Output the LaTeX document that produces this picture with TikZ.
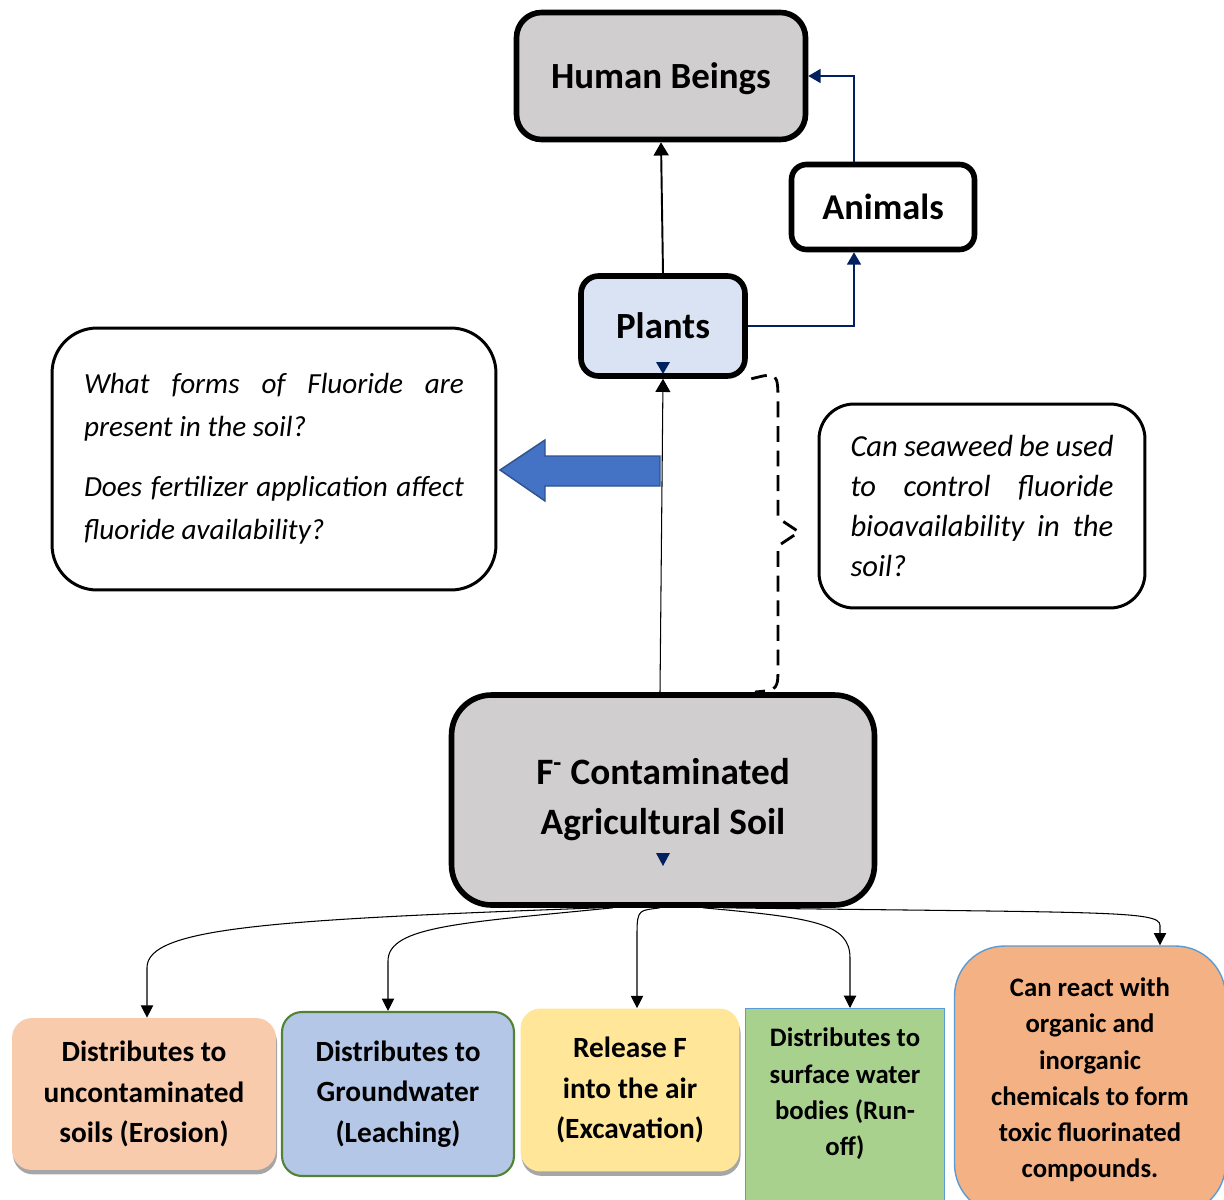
\documentclass[tikz,border=0pt]{standalone}
\usepackage{fontspec}
\setmainfont{Carlito}
\usetikzlibrary{calc,arrows.meta,positioning,shadows}
\definecolor{boxgray}{RGB}{208,206,206}
\definecolor{plantblue}{RGB}{218,227,243}
\definecolor{navy}{RGB}{0,32,96}
\definecolor{arrowblue}{RGB}{68,114,196}
\definecolor{arrowedge}{RGB}{47,82,143}
\definecolor{peach}{RGB}{248,203,173}
\definecolor{waterblue}{RGB}{180,199,231}
\definecolor{greenedge}{RGB}{84,130,53}
\definecolor{sunyellow}{RGB}{255,230,153}
\definecolor{grassgreen}{RGB}{169,209,142}
\definecolor{edgeblue}{RGB}{91,155,213}
\definecolor{coral}{RGB}{244,177,131}

\begin{document}
\begin{tikzpicture}[x=0.02cm, y=-0.02cm,
    bigbox/.style={draw=black, line width=3.2pt, rounded corners=0.5cm, align=center},
    askbox/.style={draw=black, line width=1.7pt, align=justify},
    outbox/.style={align=center, rounded corners=0.4cm, font=\fontsize{16.7}{23.2}\selectfont\bfseries},
    smallout/.style={align=center, font=\fontsize{15.2}{20.6}\selectfont\bfseries},
    shade/.style={drop shadow={shadow xshift=0.6pt, shadow yshift=-2.5pt, opacity=0.35, fill=black}},
    conn/.style={line width=0.6pt, -{Triangle[length=7pt,width=7pt]}},
    link/.style={draw=navy, line width=0.7pt, -{Triangle[length=7pt,width=8pt]}}
  ]
    \useasboundingbox (0,0) rectangle (1224,1200);
    \clip (0,0) rectangle (1224,1200);

    % food chain
    \node[bigbox, fill=boxgray, minimum width=5.78cm, minimum height=2.54cm, text height=19pt, text depth=4.4pt,
      font=\fontsize{21}{25}\selectfont\bfseries] (human) at (661,76) {Human Beings};
    \node[bigbox, fill=white, rounded corners=0.3cm, minimum width=3.66cm, minimum height=1.7cm,
      font=\fontsize{20.7}{24}\selectfont\bfseries] (animals) at (883,207) {Animals};
    \node[bigbox, fill=plantblue, rounded corners=0.35cm, minimum width=3.28cm, minimum height=2cm,
      font=\fontsize{21}{24}\selectfont\bfseries] (plants) at (663,326) {Plants};
    \fill[navy] (656,362) -- (670,362) -- (663,374) -- cycle;

    % questions
    \node[askbox, rounded corners=0.9cm, minimum width=8.88cm, minimum height=5.24cm, text width=7.6cm,
      font=\fontsize{16.6}{24.4}\selectfont\itshape] (formsq) at (274,459)
      {What forms of Fluoride are\linebreak present in the soil?\par\vspace{10pt}
       Does fertilizer application affect\linebreak fluoride availability?};
    \node[askbox, rounded corners=0.7cm, minimum width=6.52cm, minimum height=4.08cm, text width=5.26cm,
      font=\fontsize{17.4}{22.7}\selectfont\itshape] (seaweedq) at (982,506)
      {Can seaweed be used\linebreak to control fluoride\linebreak bioavailability in the\linebreak soil?};
    \filldraw[fill=arrowblue, draw=arrowedge, line width=0.8pt]
      (660,456) -- (545,456) -- (545,440) -- (500,470) -- (545,501) -- (545,486) -- (660,486) -- cycle;

    % soil
    \node[bigbox, fill=boxgray, rounded corners=0.8cm, minimum width=8.46cm, minimum height=4.2cm,
      font=\fontsize{21.2}{28.5}\selectfont\bfseries] (soil) at (663,800)
      {F\textsuperscript{-} Contaminated\\Agricultural Soil};
    \fill[navy] (656,853) -- (670,853) -- (663,866) -- cycle;

    % pathways
    \node[outbox, fill=peach, shade, minimum width=5.28cm, minimum height=3.04cm] (erosion) at (144,1094)
      {Distributes to\\uncontaminated\\soils (Erosion)};
    \node[outbox, fill=waterblue, draw=greenedge, line width=1.2pt, minimum width=4.64cm, minimum height=3.28cm]
      (leaching) at (398,1094) {Distributes to\\Groundwater\\(Leaching)};
    \node[outbox, fill=sunyellow, shade, minimum width=4.38cm, minimum height=3.26cm] (excavation) at (630,1090)
      {Release F\\into the air\\(Excavation)};
    \node[fill=grassgreen, draw=edgeblue, line width=0.6pt, minimum width=3.98cm, minimum height=4.14cm,
      anchor=north] (runoff) at (845,1008) {};
    \node[smallout, anchor=north] (runofftext) at (845,1022) {Distributes to\\surface water\\bodies (Run-\\off)};
    \node[smallout, fill=coral, draw=edgeblue, line width=0.8pt, rounded corners=1cm, minimum width=5.42cm,
      minimum height=5.36cm] (compounds) at (1090,1080)
      {Can react with\\organic and\\inorganic\\chemicals to form\\toxic fluorinated\\compounds.};

    % arrows
    \draw[line width=1.1pt, -{Triangle[length=7.5pt,width=8.5pt]}] (plants.north) -- (human.south);
    \draw[link] (plants.east) -| ([xshift=-0.58cm]animals.south);
    \draw[link] ([xshift=-0.58cm]animals.north) |- (human.east);
    \draw[line width=0.6pt, -{Triangle[length=7.5pt,width=8.5pt]}] ([xshift=-0.06cm]soil.north) -- (plants.south);
    \draw[line width=1.6pt, dash pattern=on 9pt off 5pt]
      ([xshift=2pt]plants.south east) .. controls (778,372) .. (778,405) -- (778,518) -- (799,532)
      -- (778,546) -- (778,665) .. controls (778,690) .. (755,692);

    \draw[conn] ($(soil.south)+(-63,0)$) .. controls +(-330,12) and +(0,-40) ..
      ([xshift=0.06cm,yshift=1cm]erosion.north) -- ([xshift=0.06cm]erosion.north);
    \draw[conn] ($(soil.south)+(-50,0)$) .. controls +(-150,15) and +(0,-35) ..
      ([xshift=-0.2cm,yshift=1cm]leaching.north) -- ([xshift=-0.2cm]leaching.north);
    \draw[conn] ($(soil.south)+(-3,0)$) .. controls +(-20,3) and +(0,-25) ..
      ([xshift=0.14cm,yshift=1.5cm]excavation.north) -- ([xshift=0.14cm]excavation.north);
    \draw[conn] ($(soil.south)+(40,0)$) .. controls +(110,10) and +(0,-35) ..
      ([xshift=0.1cm,yshift=1cm]runoff.north) -- ([xshift=0.1cm]runoff.north);
    \draw[conn] ($(soil.south)+(60,0)$) .. controls +(380,5) and +(0,-15) ..
      ([xshift=1.4cm,yshift=0.4cm]compounds.north) -- ([xshift=1.4cm]compounds.north);
\end{tikzpicture}
\end{document}
